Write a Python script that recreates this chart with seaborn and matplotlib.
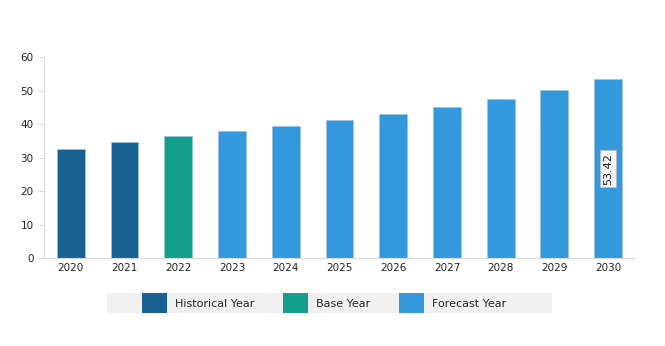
import matplotlib
matplotlib.use("Agg")
import matplotlib.pyplot as plt
import seaborn as sns
import pandas as pd
import numpy as np
from matplotlib.patches import Patch, Rectangle

years = ["2020", "2021", "2022", "2023", "2024", "2025", "2026", "2027", "2028", "2029", "2030"]
values = [32.6, 34.8, 36.5, 37.8, 39.4, 41.1, 43.1, 45.1, 47.6, 50.3, 53.42]
kinds = ["Historical Year", "Historical Year", "Base Year"] + ["Forecast Year"] * 8
palette = {"Historical Year": "#186293", "Base Year": "#139f8a", "Forecast Year": "#3499dc"}
yticks = [0, 10, 20, 30, 40, 50, 60]

df = pd.DataFrame({"year": years, "value": values, "kind": kinds})

sns.set_style("white")
plt.rcParams["font.family"] = ["DejaVu Sans"]

fig = plt.figure(figsize=(6.65, 3.46), dpi=100)
ax = fig.add_axes([0.066, 0.254, 0.889, 0.581])
sns.barplot(data=df, x="year", y="value", hue="kind", palette=palette,
            dodge=False, width=0.52, legend=False, ax=ax, saturation=1,
            edgecolor="#9cc3dd", linewidth=0.5)

ax.set_ylim(0, 60)
ax.set_yticks(yticks)
ax.set_xlim(-0.5, len(years) - 0.5)
ax.set_xlabel("")
ax.set_ylabel("")
for s in ["top", "right"]:
    ax.spines[s].set_visible(False)
for s in ["left", "bottom"]:
    ax.spines[s].set_color("#d9d9d9")
    ax.spines[s].set_linewidth(0.8)
ax.tick_params(axis="both", labelsize=7.5, colors="#222222", length=0)
ax.set_xticks(np.arange(-0.5, len(years), 1.0), minor=True)
ax.tick_params(axis="x", which="minor", length=4, color="#d9d9d9")
ax.tick_params(axis="y", which="major", length=4, color="#d9d9d9", left=True)

last = len(values) - 1
ax.text(last, values[last] / 2, f"{values[last]:.2f}", rotation=90, ha="center", va="center",
        fontsize=8, color="#222222",
        bbox=dict(boxstyle="square,pad=0.25", facecolor="#f4f4f4", edgecolor="#bbbbbb", linewidth=0.6))

# legend background strip
fig.patches.append(Rectangle((107 / 665, 0.095), 445 / 665, 0.058, transform=fig.transFigure,
                             facecolor="#f0f0f0", edgecolor="none", zorder=0))
handles = [Patch(facecolor=palette[k], edgecolor="none", label=k)
           for k in ["Historical Year", "Base Year", "Forecast Year"]]
leg = fig.legend(handles=handles, loc="center", bbox_to_anchor=(0.487, 0.124), ncol=3,
                 frameon=False, fontsize=8, handlelength=2.25, handleheight=2.4,
                 columnspacing=2.6, handletextpad=0.72, borderpad=0.0)

fig.savefig("out.png", dpi=100)
